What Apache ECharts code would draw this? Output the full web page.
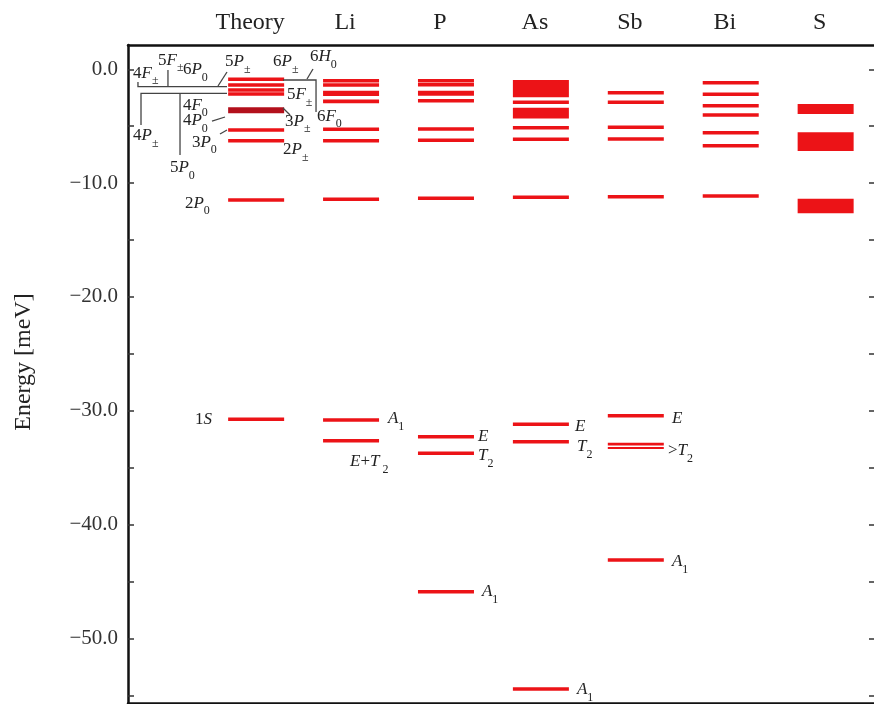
<!DOCTYPE html>
<html><head><meta charset="utf-8">
<script src="https://cdn.jsdelivr.net/npm/echarts@6/dist/echarts.min.js"></script>
<style>html,body{margin:0;padding:0;background:#fff}#c{width:874px;height:704px}</style>
</head><body><div id="c"></div>
<script>
// ---- data (meV); single number = sharp level, [top, bottom] = band ----
const columns = ['Theory', 'Li', 'P', 'As', 'Sb', 'Bi', 'S'];
const theoryLevels = [-0.88, -1.38, -1.82, -2.17, [-3.34, -3.87], -5.33, -6.27, -11.48, -30.75];
const liLevels = [-1.00, -1.38, [-1.88, -2.35], [-2.66, -2.98], -5.27, -6.27, -11.42, -30.81, -32.63];
const pLevels = [-1.00, -1.35, [-1.88, -2.32], -2.76, -5.24, -6.24, -11.33, -32.28, -33.73, -45.89];
const asLevels = [[-0.94, -2.46], -2.90, [-3.37, -4.33], -5.13, -6.15, -11.24, -31.19, -32.72, -54.44];
const sbLevels = [-2.06, -2.90, -5.10, -6.12, -11.19, -30.43, [-32.81, -33.04], [-33.17, -33.35], -43.11];
const biLevels = [-1.18, -2.20, -3.20, -4.01, -5.57, -6.71, -11.13];
const sLevels = [[-3.05, -3.93], [-5.53, -7.18], [-11.37, -12.65]];
const allLevels = [theoryLevels, liLevels, pLevels, asLevels, sbLevels, biLevels, sLevels];

const yMajorTicks = [0, -10, -20, -30, -40, -50];
const yAllTicks = [0, -5, -10, -15, -20, -25, -30, -35, -40, -45, -50, -55];

// annotation labels: [text, x (column units), energy]
const annotations = [
  ['{n|4}{i|F}{s|±}', -1.297, -0.33],
  ['{n|5}{i|F}{s|±}', -1.034, 0.80],
  ['{n|6}{i|P}{s|0}', -0.771, -0.06],
  ['{n|5}{i|P}{s|±}', -0.328, 0.64],
  ['{n|4}{i|F}{s|0}', -0.771, -3.14],
  ['{n|4}{i|P}{s|0}', -0.771, -4.54],
  ['{n|4}{i|P}{s|±}', -1.297, -5.86],
  ['{n|3}{i|P}{s|0}', -0.676, -6.39],
  ['{n|5}{i|P}{s|0}', -0.908, -8.67],
  ['{n|2}{i|P}{s|0}', -0.750, -11.75],
  ['{n|1}{i|S}', -0.644, -30.81],
  ['{n|6}{i|P}{s|±}', 0.178, 0.64],
  ['{n|6}{i|H}{s|0}', 0.567, 1.08],
  ['{n|5}{i|F}{s|±}', 0.325, -2.26],
  ['{n|3}{i|P}{s|±}', 0.304, -4.55],
  ['{n|6}{i|F}{s|0}', 0.641, -4.11],
  ['{n|2}{i|P}{s|±}', 0.283, -7.09],
  ['{i|A}{s|1}', 1.389, -30.72],
  ['{i|E}{n|+}{i|T}{s| 2}', 0.989, -34.50],
  ['{i|E}', 2.337, -32.30],
  ['{i|T}{s|2}', 2.337, -33.97],
  ['{i|A}{s|1}', 2.379, -45.92],
  ['{i|E}', 3.359, -31.42],
  ['{i|T}{s|2}', 3.380, -33.18],
  ['{i|A}{s|1}', 3.380, -54.53],
  ['{i|E}', 4.381, -30.72],
  ['{n|>}{i|T}{s|2}', 4.339, -33.53],
  ['{i|A}{s|1}', 4.381, -43.28]
];
// bracket / pointer lines: point lists [x (column units), energy]
const leaderLines = [
  [[-1.245, -1.116], [-1.245, -1.529], [-0.307, -1.529]],
  [[-0.929, -0.06], [-0.929, -1.529]],
  [[-1.213, -4.893], [-1.213, -2.108], [-0.307, -2.108]],
  [[-0.802, -2.108], [-0.802, -7.529]],
  [[-0.307, -0.237], [-0.402, -1.467]],
  [[-0.465, -4.542], [-0.328, -4.190]],
  [[-0.381, -5.684], [-0.307, -5.333]],
  [[0.283, -0.94], [0.631, -0.94], [0.631, -3.751]],
  [[0.599, 0.026], [0.536, -0.852]],
  [[0.283, -3.40], [0.357, -4.015]]
];

// ---- build series data ----
const levelData = [];
allLevels.forEach((lv, c) => {
  lv.forEach(v => {
    if (Array.isArray(v)) levelData.push([c, v[0], v[1], 1]);
    else levelData.push([c, v, v, 0]);
  });
});

const SERIF = 'Liberation Serif';
const BAR_HALF = 0.295;
const rich = {
  n: {fontFamily: SERIF, fontSize: 17, lineHeight: 27, verticalAlign: 'middle', fill: '#222'},
  i: {fontFamily: SERIF, fontSize: 17, fontStyle: 'italic', lineHeight: 27, verticalAlign: 'middle', fill: '#222'},
  s: {fontFamily: SERIF, fontSize: 12, lineHeight: 12, verticalAlign: 'bottom', fill: '#222'}
};

const chart = echarts.init(document.getElementById('c'));
chart.setOption({
  animation: false,
  backgroundColor: '#fff',
  grid: {left: 128, top: 45, width: 747, height: 658, outerBoundsMode: 'none', containLabel: false},
  xAxis: [{
    type: 'value', position: 'top', min: -1.35, max: 6.52,
    axisLine: {show: true, onZero: false, lineStyle: {color: '#111', width: 2.5}},
    axisTick: {show: false}, splitLine: {show: false},
    axisLabel: {
      customValues: [0, 1, 2, 3, 4, 5, 6],
      formatter: v => columns[Math.round(v)],
      fontFamily: SERIF, fontSize: 24, color: '#222', margin: 10,
      padding: [0, 12, 0, 0]
    }
  }, {
    type: 'value', position: 'bottom', min: -1.35, max: 6.52,
    axisLine: {show: true, onZero: false, lineStyle: {color: '#111', width: 2.5}},
    axisTick: {show: false}, axisLabel: {show: false}, splitLine: {show: false}
  }],
  yAxis: [{
    type: 'value', min: -55.67, max: 2.135, position: 'left',
    name: 'Energy [meV]', nameLocation: 'middle', nameGap: 92, nameRotate: 90,
    nameTextStyle: {fontFamily: SERIF, fontSize: 24, color: '#222', padding: [0, 0, 0, 24]},
    axisLine: {show: true, onZero: false, lineStyle: {color: '#111', width: 2.5}},
    axisTick: {show: true, inside: true, length: 6, customValues: yAllTicks, lineStyle: {color: '#333', width: 1.5}},
    axisLabel: {
      customValues: yMajorTicks,
      formatter: v => (v < 0 ? '\u2212' : '') + Math.abs(v).toFixed(1),
      fontFamily: SERIF, fontSize: 21, color: '#333', margin: 10
    },
    splitLine: {show: false}
  }, {
    type: 'value', min: -55.67, max: 2.135, position: 'right',
    axisLine: {show: true, onZero: false, lineStyle: {color: '#111', width: 2.5}},
    axisTick: {show: true, inside: true, length: 6, customValues: yAllTicks, lineStyle: {color: '#333', width: 1.5}},
    axisLabel: {show: false}, splitLine: {show: false}
  }],
  series: [{
    type: 'custom', silent: true, xAxisIndex: 0, yAxisIndex: 0,
    data: levelData,
    encode: {x: 0, y: [1, 2]},
    renderItem: (params, api) => {
      const c = api.value(0), top = api.value(1), bot = api.value(2), band = api.value(3);
      const p1 = api.coord([c - BAR_HALF, top]);
      const p2 = api.coord([c + BAR_HALF, bot]);
      let y = p1[1], h = p2[1] - p1[1];
      if (!band) { y = (p1[1] + p2[1]) / 2 - 1.75; h = 3.5; }
      const fill = (c === 0 && band) ? '#b3101c' : '#ec1317';
      return {type: 'rect', shape: {x: p1[0], y: y, width: p2[0] - p1[0], height: h}, style: {fill: fill}};
    }
  }, {
    type: 'custom', silent: true, xAxisIndex: 0, yAxisIndex: 0,
    data: leaderLines.map((l, i) => [l[0][0], l[0][1], i]),
    encode: {x: 0, y: 1},
    renderItem: (params, api) => {
      const pts = leaderLines[params.dataIndex].map(p => api.coord(p));
      return {type: 'polyline', shape: {points: pts}, style: {stroke: '#444', lineWidth: 1.3, fill: null}};
    }
  }, {
    type: 'custom', silent: true, xAxisIndex: 0, yAxisIndex: 0,
    data: annotations.map(a => [a[1], a[2]]),
    encode: {x: 0, y: 1},
    renderItem: (params, api) => {
      const a = annotations[params.dataIndex];
      const p = api.coord([a[1], a[2]]);
      return {type: 'text', x: p[0], y: p[1],
        style: {text: a[0], rich: rich, align: 'left', verticalAlign: 'middle', fontFamily: SERIF, fontSize: 17, fill: '#222'}};
    }
  }]
});
</script></body></html>
